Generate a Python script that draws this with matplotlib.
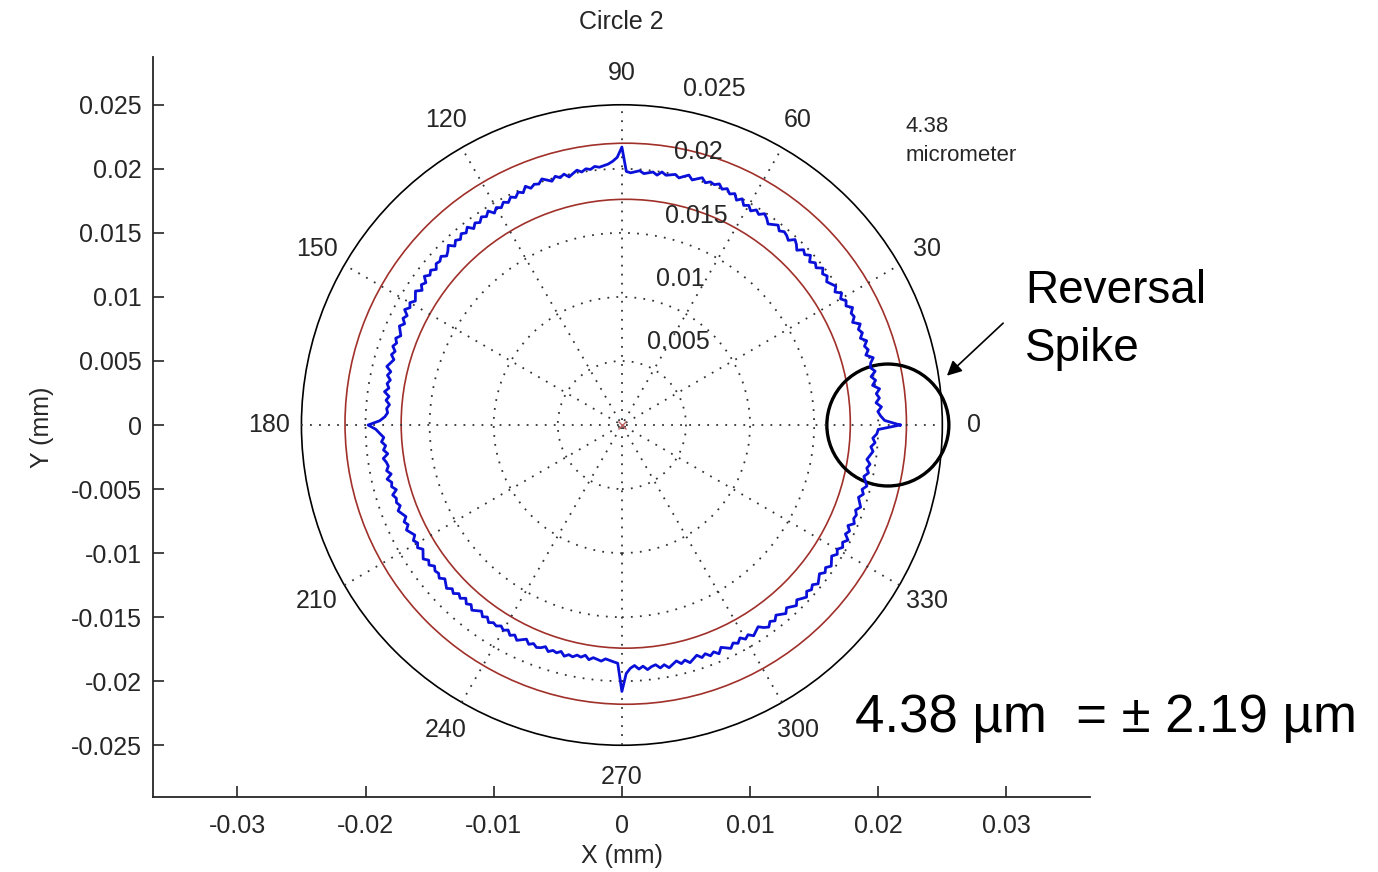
import numpy as np
import matplotlib.pyplot as plt
from matplotlib.patches import Circle

# Measured radius of circle 2, one value per degree starting at 0 deg (micrometres)
radius_um = [
    21.7, 20.5, 20.2, 20.0, 20.3, 19.9, 20.2, 20.0, 20.3, 19.8,
    20.1, 19.8, 20.2, 19.9, 20.0, 20.3, 19.8, 20.1, 19.9, 20.2,
    19.8, 20.1, 19.9, 20.2, 19.7, 20.0, 19.9, 20.2, 19.8, 20.0,
    19.7, 20.0, 19.6, 19.9, 19.7, 19.5, 19.8, 19.6, 19.9, 19.5,
    19.7, 19.4, 19.8, 19.5, 19.7, 19.3, 19.6, 19.8, 19.4, 19.6,
    19.7, 19.5, 19.8, 19.6, 19.4, 19.7, 19.9, 19.6, 19.8, 19.5,
    19.8, 19.6, 20.0, 19.7, 20.1, 19.9, 20.2, 20.0, 20.3, 20.1,
    20.2, 20.0, 20.3, 20.1, 19.9, 20.2, 20.0, 19.8, 20.0, 19.9,
    19.8, 20.0, 19.7, 19.9, 19.8, 19.7, 19.9, 19.8, 19.7, 19.8,
    21.7, 20.9, 20.6, 20.4, 20.3, 20.2, 20.3, 20.1, 20.2, 20.0,
    20.2, 20.0, 19.8, 20.1, 19.9, 20.1, 19.8, 20.0, 20.2, 19.9,
    20.0, 19.8, 20.1, 19.7, 19.9, 19.6, 19.8, 19.5, 19.7, 19.4,
    19.6, 19.3, 19.7, 19.4, 19.6, 19.3, 19.5, 19.2, 19.6, 19.3,
    19.5, 19.2, 19.4, 19.1, 19.5, 19.2, 19.0, 19.3, 19.1, 19.2,
    18.9, 19.2, 19.0, 19.3, 18.9, 19.1, 18.8, 19.2, 19.0, 18.8,
    19.1, 18.9, 19.2, 18.8, 19.0, 18.7, 19.0, 18.8, 18.6, 18.9,
    18.7, 18.9, 18.6, 18.8, 18.5, 18.7, 18.9, 18.5, 18.7, 18.4,
    18.6, 18.4, 18.7, 18.3, 18.5, 18.2, 18.4, 18.3, 18.5, 18.9,
    19.8, 19.2, 18.9, 18.6, 18.8, 18.5, 18.7, 18.4, 18.8, 18.6,
    18.5, 18.7, 18.4, 18.8, 18.5, 18.6, 18.3, 18.7, 18.5, 18.6,
    18.4, 18.7, 18.5, 18.3, 18.6, 18.4, 18.7, 18.5, 18.3, 18.6,
    18.4, 18.6, 18.3, 18.5, 18.7, 18.4, 18.6, 18.3, 18.5, 18.4,
    18.6, 18.3, 18.5, 18.7, 18.4, 18.6, 18.3, 18.5, 18.2, 18.5,
    18.3, 18.6, 18.4, 18.2, 18.5, 18.3, 18.6, 18.4, 18.5, 18.3,
    18.5, 18.3, 18.6, 18.4, 18.7, 18.5, 18.3, 18.6, 18.4, 18.6,
    18.5, 18.3, 18.6, 18.4, 18.5, 18.3, 18.6, 18.4, 18.5, 18.3,
    18.4, 18.2, 18.5, 18.3, 18.4, 18.5, 18.3, 18.4, 18.5, 18.6,
    20.8, 19.4, 19.0, 18.8, 19.1, 18.9, 19.2, 19.0, 18.9, 19.2,
    19.0, 19.3, 19.1, 18.9, 19.2, 19.0, 19.3, 19.1, 18.9, 19.2,
    19.0, 19.3, 19.1, 19.4, 19.0, 19.2, 19.4, 19.1, 19.3, 19.0,
    19.3, 19.1, 19.4, 19.2, 19.0, 19.3, 19.5, 19.2, 19.4, 19.1,
    19.3, 19.5, 19.2, 19.4, 19.6, 19.3, 19.5, 19.7, 19.4, 19.6,
    19.4, 19.7, 19.5, 19.3, 19.6, 19.4, 19.7, 19.5, 19.3, 19.6,
    19.4, 19.7, 19.5, 19.8, 19.4, 19.6, 19.3, 19.7, 19.5, 19.6,
    19.4, 19.7, 19.5, 19.3, 19.6, 19.4, 19.7, 19.5, 19.3, 19.6,
    19.4, 19.6, 19.3, 19.5, 19.7, 19.5, 19.8, 19.6, 19.9, 20.0,
]

# min / max zone circles (mm) and their fitted centre
min_circle_mm = 0.01752
max_circle_mm = 0.02190
fit_center_mm = (0.0003, 0.0001)

ring_ticks = [0.005, 0.01, 0.015, 0.02, 0.025]
ring_labels = ['0.005', '0.01', '0.015', '0.02', '0.025']
spoke_angles = [0, 30, 60, 90, 120, 150, 180, 210, 240, 270, 300, 330]

x_ticks = [-0.03, -0.02, -0.01, 0, 0.01, 0.02, 0.03]
x_ticklabels = ['-0.03', '-0.02', '-0.01', '0', '0.01', '0.02', '0.03']
y_ticks = [-0.025, -0.02, -0.015, -0.01, -0.005, 0, 0.005, 0.01, 0.015, 0.02, 0.025]
y_ticklabels = ['-0.025', '-0.02', '-0.015', '-0.01', '-0.005', '0',
                '0.005', '0.01', '0.015', '0.02', '0.025']

plt.rcParams['font.family'] = ['Liberation Sans', 'DejaVu Sans']

fig = plt.figure(figsize=(13.78, 8.72), dpi=100)
ax = fig.add_axes([153 / 1378, 1 - 797 / 872, 937 / 1378, 740 / 872])
ax.set_xlim(-0.03658, 0.03652)
ax.set_ylim(-0.02904, 0.02873)

rmax = ring_ticks[-1]

# polar grid: dotted rings, solid outer ring, dotted spokes
for v in ring_ticks[:-1]:
    ax.add_patch(Circle((0, 0), v, fill=False, ls=(0, (1, 4)), lw=1.3, color='0.2'))
ax.add_patch(Circle((0, 0), rmax, fill=False, lw=1.2, color='black'))
for a in spoke_angles[:6]:
    t = np.deg2rad(a)
    ax.plot([-rmax * np.cos(t), rmax * np.cos(t)], [-rmax * np.sin(t), rmax * np.sin(t)],
            ls=(0, (1, 4)), lw=1.3, color='0.2')

c82, s82 = np.cos(np.deg2rad(82)), np.sin(np.deg2rad(82))
for v, lab in zip(ring_ticks, ring_labels):
    ax.text(v * c82 + 0.00125, v * s82 + 0.0015, lab, ha='left', va='center', fontsize=18,
            color='0.15')
for a in spoke_angles:
    t = np.deg2rad(a)
    ax.text(1.1 * rmax * np.cos(t), 1.1 * rmax * np.sin(t), str(a), ha='center', va='center',
            fontsize=18, color='0.15')

# min / max circles
for r in (min_circle_mm, max_circle_mm):
    ax.add_patch(Circle(fit_center_mm, r, fill=False, lw=1.2, color='#a0302a'))

# measured profile
theta = np.deg2rad(np.arange(len(radius_um) + 1))
r_mm = np.array(radius_um + radius_um[:1]) / 1000.0
ax.plot(r_mm * np.cos(theta), r_mm * np.sin(theta), color='#0a10d8', lw=2.0)
ax.plot([0], [0], marker='x', ms=6, color='#c06060', mew=1)

# highlight of the reversal spike
ax.add_patch(Circle((0.02075, 0.0), 0.00476, fill=False, lw=2.4, color='black'))
ax.annotate('', xy=(0.0252, 0.0037), xytext=(0.0299, 0.0081),
            arrowprops=dict(arrowstyle='-|>', color='black', lw=1.2, mutation_scale=22))

ax.text(906 / 1378, 1 - 132 / 872, '4.38', transform=fig.transFigure, fontsize=16,
        color='0.15', va='baseline')
ax.text(906 / 1378, 1 - 161 / 872, 'micrometer', transform=fig.transFigure, fontsize=16,
        color='0.15', va='baseline')

# axes styling
ax.set_xticks(x_ticks)
ax.set_xticklabels(x_ticklabels)
ax.set_yticks(y_ticks)
ax.set_yticklabels(y_ticklabels)
ax.tick_params(direction='in', length=8, width=1.2, labelsize=18, colors='0.15')
ax.tick_params(axis='y', pad=8)
ax.tick_params(axis='x', pad=12)
for s in ('top', 'right'):
    ax.spines[s].set_visible(False)
for s in ('left', 'bottom'):
    ax.spines[s].set_linewidth(1.3)
    ax.spines[s].set_color('0.15')

ax.set_xlabel('X (mm)', fontsize=18, color='0.15')
ax.set_ylabel('Y (mm)', fontsize=18, color='0.15')
ax.xaxis.set_label_coords(0.5, -0.0635)
ax.yaxis.set_label_coords(-0.106, 0.5)
ax.set_title('Circle 2', fontsize=18, color='0.15', y=1.047, va='center', pad=0)

fig.text(1025 / 1378, 1 - 303 / 872, 'Reversal', fontsize=33, va='baseline')
fig.text(1025 / 1378, 1 - 361 / 872, 'Spike', fontsize=33, va='baseline')
fig.text(855 / 1378, 1 - 732 / 872, '4.38 µm  = ± 2.19 µm', fontsize=38, va='baseline')

fig.savefig('out.png', dpi=100, facecolor='white')
